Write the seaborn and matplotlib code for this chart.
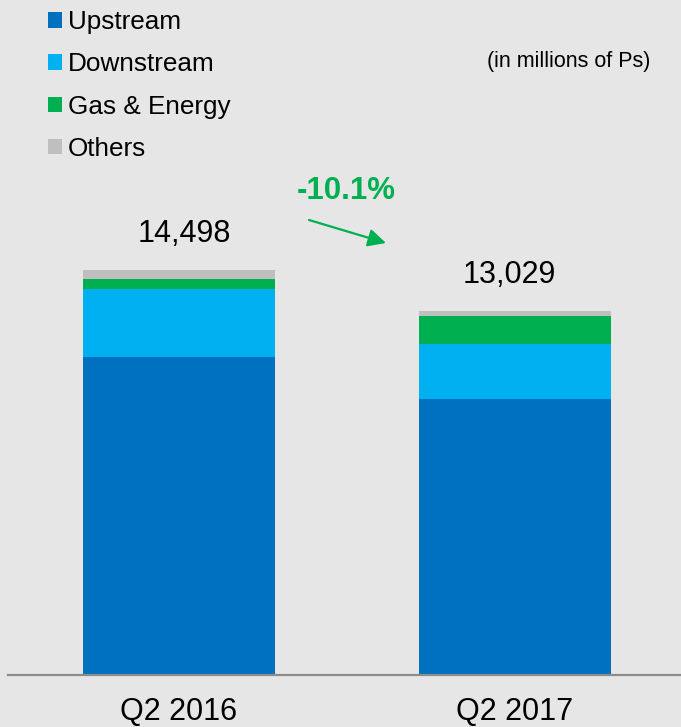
import numpy as np
import pandas as pd
import matplotlib
matplotlib.use("Agg")
import matplotlib.pyplot as plt
import seaborn as sns

# values (millions of Ps)
periods = ["Q2 2016", "Q2 2017"]
segments = ["Upstream", "Downstream", "Gas & Energy", "Others"]
upstream = [11395, 9890]
downstream = [2423, 1969]
gas_energy = [358, 981]
others = [322, 189]
totals = [14498, 13029]
change_label = "-10.1%"
unit_note = "(in millions of Ps)"

colors = ["#0070c0", "#00b0f0", "#00b050", "#bfbfbf"]
bg = "#e6e6e6"

sns.set_theme(style="white")
plt.rcParams["font.family"] = ["Liberation Sans", "DejaVu Sans"]
plt.rcParams["text.color"] = "black"

W, H = 681, 727
fig = plt.figure(figsize=(W / 100, H / 100), dpi=100, facecolor=bg)
ax = fig.add_axes([8 / W, (H - 675) / H, (W - 8) / W, 675 / H])
ax.set_facecolor(bg)

df = pd.DataFrame({"period": periods, "Upstream": upstream, "Downstream": downstream,
                   "Gas & Energy": gas_energy, "Others": others})
# cumulative stacks, tallest first so the lower segments sit on top
cum = df[segments].cumsum(axis=1)
for seg, col in reversed(list(zip(segments, colors))):
    sns.barplot(x=df["period"], y=cum[seg], color=col, width=0.571, linewidth=0,
                saturation=1, ax=ax, label=seg)

ax.set_xlim(-0.509, 1.494)
ax.set_ylim(0, 24160)
ax.set_xlabel("")
ax.set_ylabel("")
ax.set_yticks([])
for s in ["top", "right", "left"]:
    ax.spines[s].set_visible(False)
ax.spines["bottom"].set_color("#8c8c8c")
ax.spines["bottom"].set_linewidth(1.6)
ax.tick_params(axis="x", length=0, pad=16, labelsize=22, labelcolor="black")

# totals above the bars (slight horizontal nudges as in the original)
nudges = [4, -4]
for i, t in enumerate(totals):
    ax.annotate(f"{t:,}", (i, t), xytext=(nudges[i], 20), textcoords="offset points",
                ha="center", va="baseline", fontsize=22, color="black")

# change annotation
fig.text(346 / W, 1 - 191 / H, change_label, ha="center", va="center",
         fontsize=22.5, fontweight="bold", color="#00b050")
ax.annotate("", xy=(386 / W, 1 - 243 / H), xycoords="figure fraction",
            xytext=(309 / W, 1 - 220 / H), textcoords="figure fraction",
            arrowprops=dict(arrowstyle="-|>,head_length=0.9,head_width=0.45",
                            color="#00b050", lw=1.6, shrinkA=0, shrinkB=0))

fig.text(650 / W, 1 - 62 / H, unit_note, ha="right", va="center", fontsize=15.5,
         color="black")

h, l = ax.get_legend_handles_labels()
lookup = dict(zip(l, h))
ax.legend([lookup[s] for s in segments], segments, loc="upper left",
          bbox_to_anchor=(48 / W, 1 - 10 / H), bbox_transform=fig.transFigure,
          frameon=False, fontsize=18.8, borderpad=0, borderaxespad=0,
          handlelength=0.54, handleheight=0.54, handletextpad=0.23,
          labelspacing=0.70, labelcolor="black")

fig.savefig("out.png", dpi=100, facecolor=bg)
